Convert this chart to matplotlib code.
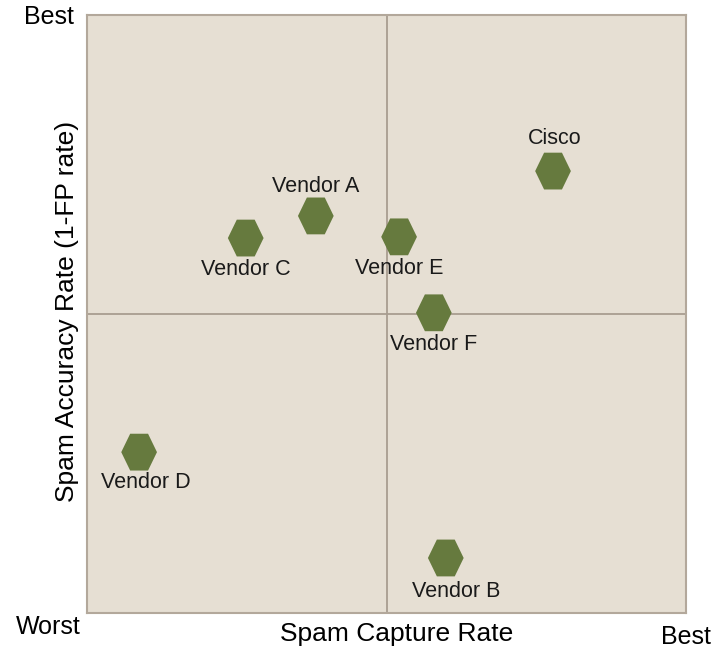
import matplotlib
matplotlib.use("Agg")
import matplotlib.pyplot as plt
from matplotlib.path import Path

vendors = ["Cisco", "Vendor A", "Vendor C", "Vendor E", "Vendor F", "Vendor D", "Vendor B"]
capture = [7.78, 3.82, 2.65, 5.21, 5.79, 0.87, 5.99]
accuracy = [7.39, 6.64, 6.27, 6.29, 5.02, 2.69, 0.92]
# label placement: (dx px, dy px)
label_off = [(2, 33), (0, 29), (0, -31), (0, -32), (0, -32), (7, -30), (10, -34)]

plt.rcParams['font.family'] = ['Liberation Sans', 'DejaVu Sans']

hexv = [(1, 0), (0.5, 1.03), (-0.5, 1.03), (-1, 0), (-0.5, -1.03), (0.5, -1.03), (1, 0)]
hex_marker = Path(hexv, [Path.MOVETO] + [Path.LINETO] * 5 + [Path.CLOSEPOLY])

fig = plt.figure(figsize=(7.28, 6.48), dpi=100)
ax = fig.add_axes([87/728, 1-613/648, (686-87)/728, (613-15)/648])
ax.set_facecolor('#e6dfd3')
ax.set_xlim(0, 10)
ax.set_ylim(0, 10)
for s in ax.spines.values():
    s.set_color('#b3a89b')
    s.set_linewidth(1.5)
ax.set_xticks([])
ax.set_yticks([])
ax.axvline(5, color='#a89d90', lw=1.3)
ax.axhline(5, color='#a89d90', lw=1.3)

ax.scatter(capture, accuracy, marker=hex_marker, s=26.5**2, color='#667a3e', edgecolors='none', zorder=3)
for name, x, y, (dx, dy) in zip(vendors, capture, accuracy, label_off):
    ax.annotate(name, (x, y), xytext=(dx*0.72, dy*0.72), textcoords='offset points',
                ha='center', va='center', fontsize=15.5, color='#1a1a1a')

fig.text(49/728, 1-17/648, "Best", ha='center', va='center', fontsize=18)
fig.text(48/728, 1-627/648, "Worst", ha='center', va='center', fontsize=18)
fig.text(686/728, 1-637/648, "Best", ha='center', va='center', fontsize=18)
fig.text(397/728, 1-634/648, "Spam Capture Rate", ha='center', va='center', fontsize=19)
fig.text(67/728, 1-311/648, "Spam Accuracy Rate (1-FP rate)", ha='center', va='center',
         fontsize=19, rotation=90)

fig.savefig("out.png", dpi=100)
